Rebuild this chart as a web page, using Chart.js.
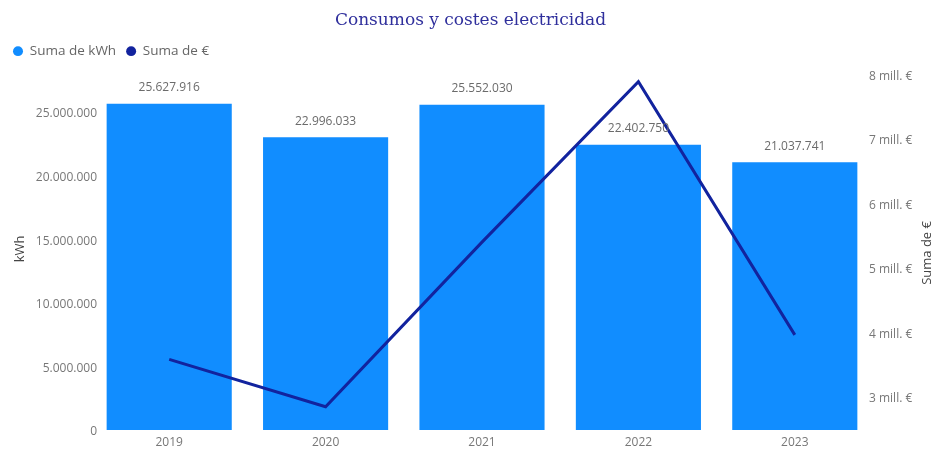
<!DOCTYPE html>
<html>
<head>
<meta charset="utf-8">
<script src="https://cdn.jsdelivr.net/npm/chart.js@4"></script>
<style>
  body { margin: 0; background: #fff; }
  #wrap { width: 941px; height: 454px; position: relative; }
</style>
</head>
<body>
<div id="wrap"><canvas id="myChart"></canvas></div>
<script>
// data
const years = ['2019', '2020', '2021', '2022', '2023'];
const kwh = [25627916, 22996033, 25552030, 22402750, 21037741];
const euros = [3580000, 2845000, 5400000, 7890000, 3960000];
const kwhTicks = [0, 5000000, 10000000, 15000000, 20000000, 25000000];
const euroTicks = [3000000, 4000000, 5000000, 6000000, 7000000, 8000000];

function fmtEs(n) {
    return String(Math.round(n)).replace(/\B(?=(\d{3})+(?!\d))/g, '.');
}

// labels above the bars + right axis title (reads bottom to top like the left one)
const extras = {
    id: 'extras',
    afterDatasetsDraw(chart) {
        const ctx = chart.ctx;
        const meta = chart.getDatasetMeta(0);
        ctx.save();
        ctx.font = '12px "Open Sans"';
        ctx.fillStyle = '#6b6b6b';
        ctx.textAlign = 'center';
        ctx.textBaseline = 'middle';
        meta.data.forEach((bar, i) => {
            ctx.fillText(fmtEs(kwh[i]), bar.x, bar.y - 16);
        });
        ctx.restore();
    },
    afterDraw(chart) {
        const ctx = chart.ctx;
        const area = chart.chartArea;
        ctx.save();
        ctx.translate(927, (area.top + area.bottom) / 2 + 4);
        ctx.rotate(-Math.PI / 2);
        ctx.font = '13px "Open Sans"';
        ctx.fillStyle = '#444';
        ctx.textAlign = 'center';
        ctx.textBaseline = 'middle';
        ctx.fillText('Suma de €', 0, 0);
        ctx.restore();
    }
};

document.addEventListener("DOMContentLoaded", function() {
    const ctx = document.getElementById('myChart').getContext('2d');

    new Chart(ctx, {
        data: {
            labels: years,
            datasets: [{
                type: 'bar',
                label: 'Suma de kWh',
                data: kwh,
                backgroundColor: '#118DFF',
                yAxisID: 'y',
                order: 2,
                categoryPercentage: 0.8,
                barPercentage: 1,
                pointStyle: 'circle'
            }, {
                type: 'line',
                label: 'Suma de €',
                data: euros,
                borderColor: '#12239E',
                backgroundColor: '#12239E',
                borderWidth: 3,
                pointRadius: 0,
                tension: 0,
                yAxisID: 'y1',
                order: 1,
                pointStyle: 'circle'
            }]
        },
        options: {
            responsive: true,
            maintainAspectRatio: false,
            animation: false,
            layout: { padding: { top: 8, left: 3, right: 3, bottom: 0 } },
            plugins: {
                title: {
                    display: true,
                    text: 'Consumos y costes electricidad',
                    color: '#2f2f9c',
                    font: { family: '"DejaVu Serif"', size: 17, weight: 'normal' },
                    padding: { top: 2, bottom: 4 }
                },
                legend: {
                    position: 'top',
                    align: 'start',
                    labels: {
                        usePointStyle: true,
                        pointStyleWidth: 10,
                        boxHeight: 7,
                        padding: 10,
                        color: '#666',
                        font: { family: '"Open Sans"', size: 13.5 },
                        sort: (a, b) => a.datasetIndex - b.datasetIndex,
                        generateLabels(chart) {
                            const items = Chart.defaults.plugins.legend.labels.generateLabels(chart);
                            items.forEach(it => { it.lineWidth = 0; it.strokeStyle = it.fillStyle; });
                            return items;
                        }
                    }
                },
                tooltip: { enabled: false }
            },
            scales: {
                x: {
                    grid: { display: false, drawTicks: false },
                    border: { display: false },
                    ticks: { color: '#777', font: { family: '"Open Sans"', size: 12 }, padding: 5 },
                    afterFit(scale) { scale.height = 24; }
                },
                y: {
                    position: 'left',
                    min: 0,
                    max: 28450000,
                    grid: { display: false, drawTicks: false },
                    border: { display: false },
                    afterBuildTicks(scale) { scale.ticks = kwhTicks.map(v => ({ value: v })); },
                    ticks: {
                        color: '#777',
                        font: { family: '"Open Sans"', size: 12 },
                        padding: -6,
                        labelOffset: 2,
                        callback: v => fmtEs(v)
                    },
                    title: {
                        display: true,
                        text: 'kWh',
                        color: '#444',
                        font: { family: '"Open Sans"', size: 13 },
                        padding: { top: 9, bottom: 0 }
                    },
                    afterFit(scale) {
                        scale.width = 88;
                        // labels sit slightly over the plot, so do not clip them to the axis box
                        scale._computeLabelArea = () => null;
                    }
                },
                y1: {
                    position: 'right',
                    min: 2483000,
                    max: 8105000,
                    grid: { display: false, drawTicks: false },
                    border: { display: false },
                    afterBuildTicks(scale) { scale.ticks = euroTicks.map(v => ({ value: v })); },
                    ticks: {
                        color: '#777',
                        font: { family: '"Open Sans"', size: 12 },
                        padding: -4,
                        labelOffset: 2,
                        callback: v => (v / 1000000) + ' mill. €'
                    },
                    afterFit(scale) {
                        scale.width = 65;
                        scale._computeLabelArea = () => null;
                    }
                }
            }
        },
        plugins: [extras]
    });
});
</script>
</body>
</html>
